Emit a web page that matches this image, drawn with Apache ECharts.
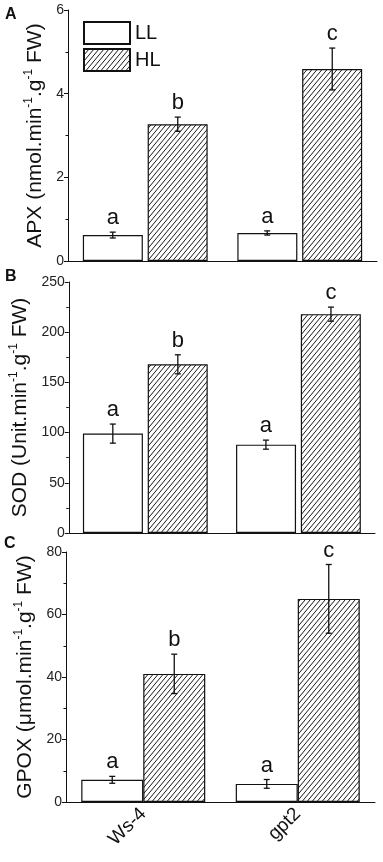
<!DOCTYPE html>
<html><head><meta charset="utf-8">
<script src="https://cdn.jsdelivr.net/npm/echarts@6/dist/echarts.min.js"></script>
<style>html,body{margin:0;padding:0;background:#fff}#c{width:383px;height:862px}</style>
</head><body><div id="c"></div>
<script>
const categories = ['Ws-4', 'gpt2'];
const apxLL = [0.62, 0.67], apxLLErr = [0.07, 0.05];
const apxHL = [3.27, 4.59], apxHLErr = [0.17, 0.50];
const sodLL = [99, 88], sodLLErr = [9.5, 4.5];
const sodHL = [168, 218], sodHLErr = [9.5, 7];
const gpoxLL = [7.1, 5.8], gpoxLLErr = [1.1, 1.4];
const gpoxHL = [41, 65], gpoxHLErr = [6.3, 11];
const lettersLL = ['a', 'a'];
const lettersHL = ['b', 'c'];

// hatch pattern
const tile = document.createElement('canvas');
const tw = 5, th = 6;
tile.width = tw; tile.height = th;
const tctx = tile.getContext('2d');
tctx.fillStyle = '#fff'; tctx.fillRect(0, 0, tw, th);
tctx.strokeStyle = '#1a1a1a'; tctx.lineWidth = 1;
for (let k = -1; k <= 1; k++) {
  tctx.beginPath(); tctx.moveTo(k * tw, th); tctx.lineTo(k * tw + tw, 0); tctx.stroke();
}
const hatch = { image: tile, repeat: 'repeat' };

const chart = echarts.init(document.getElementById('c'), null, { renderer: 'canvas' });

const grids = [
  { left: 68, right: 6, top: 10, height: 251 },
  { left: 66, right: 8, top: 282, height: 251 },
  { left: 66, right: 8, top: 552, height: 250 }
];

const rich = {
  n: { fontSize: 21, fontFamily: 'Liberation Sans, Arial', color: '#111', lineHeight: 24 },
  s: { fontSize: 12, fontFamily: 'Liberation Sans, Arial', color: '#111', verticalAlign: 'top', lineHeight: 12 }
};
const names = [
  '{n|APX (nmol.min}{s|-1}{n|.g}{s|-1}{n| FW)}',
  '{n|SOD (Unit.min}{s|-1}{n|.g}{s|-1}{n| FW)}',
  '{n|GPOX (\u03bcmol.min}{s|-1}{n|.g}{s|-1}{n| FW)}'
];
const yRanges = [[0, 6, 2], [0, 250, 50], [0, 80, 20]];

const xAxes = grids.map((g, i) => ({
  type: 'category', gridIndex: i, data: categories,
  axisLine: { lineStyle: { color: '#111', width: 1 } },
  axisTick: { alignWithLabel: true, length: 4, lineStyle: { color: '#111' } },
  axisLabel: i === 2 ? { rotate: 45, fontSize: 19, color: '#111', margin: 9, fontFamily: 'Liberation Sans, Arial' } : { show: false }
}));
const yAxes = grids.map((g, i) => ({
  type: 'value', gridIndex: i, min: yRanges[i][0], max: yRanges[i][1], interval: yRanges[i][2],
  axisLine: { show: true, lineStyle: { color: '#111', width: 1 } },
  axisTick: { show: true, length: 4, lineStyle: { color: '#111' } },
  minorTick: { show: true, splitNumber: 2, length: 2.5, lineStyle: { color: '#111' } },
  splitLine: { show: false },
  axisLabel: { fontSize: 14, color: '#222', margin: 4, fontFamily: 'Liberation Sans, Arial' },
  name: names[i], nameLocation: 'middle', nameGap: 20, nameRotate: 90,
  nameTextStyle: { rich: rich }
}));

const barStyleLL = { color: '#fff', borderColor: '#111', borderWidth: 1.2 };
const barStyleHL = { color: hatch, borderColor: '#111', borderWidth: 1.2 };

const panels = [
  [apxLL, apxLLErr, apxHL, apxHLErr, 60, '8%', 32.5],
  [sodLL, sodLLErr, sodHL, sodHLErr, 60, '8%', 32.5],
  [gpoxLL, gpoxLLErr, gpoxHL, gpoxHLErr, 62, '0%', 31]
];

function errSeries(i, vals, errs, letters, off) {
  return {
    type: 'custom', xAxisIndex: i, yAxisIndex: i, z: 10, silent: true,
    data: vals.map((v, k) => [k, v, errs[k]]),
    renderItem: function (params, api) {
      const x = api.value(0), v = api.value(1), e = api.value(2);
      const top = api.coord([x, v + e]);
      const bot = api.coord([x, v - e]);
      const cx = top[0] + off;
      const st = { stroke: '#111', lineWidth: 1.3 };
      return {
        type: 'group', children: [
          { type: 'line', shape: { x1: cx, y1: top[1], x2: cx, y2: bot[1] }, style: st },
          { type: 'line', shape: { x1: cx - 3, y1: top[1], x2: cx + 3, y2: top[1] }, style: st },
          { type: 'line', shape: { x1: cx - 3, y1: bot[1], x2: cx + 3, y2: bot[1] }, style: st },
          { type: 'text', style: { text: letters[params.dataIndex], x: cx, y: top[1] - 3, align: 'center', verticalAlign: 'bottom', fontSize: 22, fill: '#111', fontFamily: 'Liberation Sans, Arial' } }
        ]
      };
    }
  };
}

const series = [];
panels.forEach((p, i) => {
  series.push({ name: 'LL', type: 'bar', xAxisIndex: i, yAxisIndex: i, data: p[0], barWidth: p[4], barGap: p[5], itemStyle: barStyleLL });
  series.push({ name: 'HL', type: 'bar', xAxisIndex: i, yAxisIndex: i, data: p[2], barWidth: p[4], barGap: p[5], itemStyle: barStyleHL });
  series.push(errSeries(i, p[0], p[1], lettersLL, -p[6]));
  series.push(errSeries(i, p[2], p[3], lettersHL, p[6]));
});

chart.setOption({
  animation: false,
  backgroundColor: '#fff',
  grid: grids,
  xAxis: xAxes,
  yAxis: yAxes,
  legend: {
    data: ['LL', 'HL'], orient: 'vertical', left: 78, top: 16,
    itemWidth: 46, itemHeight: 22, itemGap: 3, selectedMode: false,
    icon: 'rect',
    textStyle: { fontSize: 20, color: '#111', fontFamily: 'Liberation Sans, Arial' }
  },
  graphic: [
    { type: 'text', left: 5, top: 7, style: { text: 'A', fontSize: 16, fontWeight: 'bold', fill: '#111', fontFamily: 'Liberation Sans, Arial' } },
    { type: 'text', left: 5, top: 269, style: { text: 'B', fontSize: 16, fontWeight: 'bold', fill: '#111', fontFamily: 'Liberation Sans, Arial' } },
    { type: 'text', left: 4, top: 536, style: { text: 'C', fontSize: 16, fontWeight: 'bold', fill: '#111', fontFamily: 'Liberation Sans, Arial' } }
  ],
  series: series
});
</script></body></html>
